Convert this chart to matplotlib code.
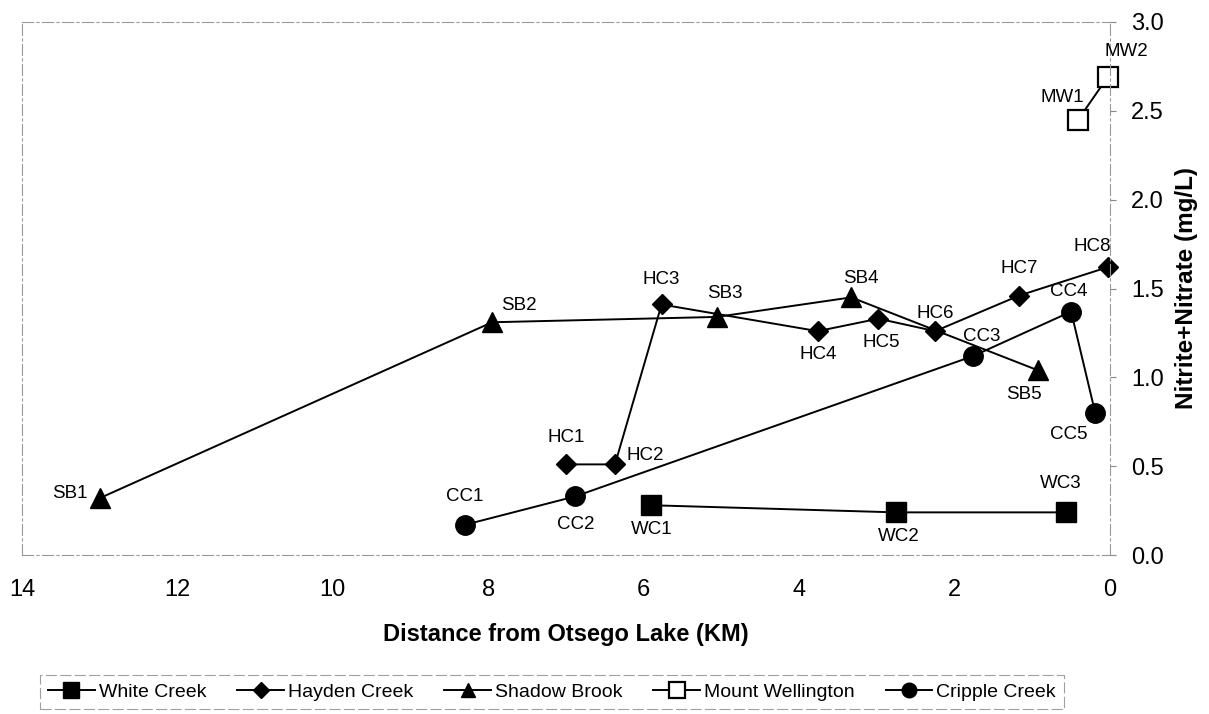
import numpy as np
import matplotlib
matplotlib.use("Agg")
from matplotlib import pyplot as plt

plt.rcParams['font.family'] = ['Liberation Sans', 'DejaVu Sans']

# distance from lake (km) and nitrite+nitrate (mg/L)
wc_x = [5.9, 2.76, 0.57]
wc_y = [0.28, 0.24, 0.24]
wc_lab = ["WC1", "WC2", "WC3"]

hc_x = [7.0, 6.37, 5.77, 3.76, 2.98, 2.25, 1.17, 0.03]
hc_y = [0.51, 0.51, 1.41, 1.26, 1.33, 1.26, 1.46, 1.62]
hc_lab = ["HC1", "HC2", "HC3", "HC4", "HC5", "HC6", "HC7", "HC8"]

sb_x = [13.0, 7.95, 5.06, 3.33, 0.93]
sb_y = [0.32, 1.31, 1.34, 1.45, 1.04]
sb_lab = ["SB1", "SB2", "SB3", "SB4", "SB5"]

mw_x = [0.41, 0.03]
mw_y = [2.45, 2.69]
mw_lab = ["MW1", "MW2"]

cc_x = [8.3, 6.88, 1.76, 0.5, 0.19]
cc_y = [0.17, 0.33, 1.12, 1.37, 0.80]
cc_lab = ["CC1", "CC2", "CC3", "CC4", "CC5"]

# label offsets in pixels (dx, dy)
wc_off = [(0, -24), (3, -24), (-5, 29)]
hc_off = [(0, 27), (30, 9), (0, 25), (0, -23), (3, -24), (0, 18), (0, 27), (-15, 21)]
sb_off = [(-30, 5), (27, 17), (8, 23), (10, 19), (-14, -24)]
mw_off = [(-16, 22), (19, 26)]
cc_off = [(0, 28), (0, -28), (8, 20), (-2, 20), (-26, -22)]

fig = plt.figure(figsize=(12.09, 7.14), dpi=100)
ax = fig.add_axes([22/1209, 1-555/714, (1110-22)/1209, (555-22)/714])

ax.plot(wc_x, wc_y, color="black", lw=1.4, marker="s", ms=15, clip_on=False, label="White Creek")
ax.plot(hc_x, hc_y, color="black", lw=1.4, marker="D", ms=10.5, clip_on=False, label="Hayden Creek")
ax.plot(sb_x, sb_y, color="black", lw=1.4, marker="^", ms=14, clip_on=False, label="Shadow Brook")
ax.plot(mw_x, mw_y, color="black", lw=1.4, marker="s", ms=14.5, mfc="white", mew=1.6,
        clip_on=False, label="Mount Wellington")
ax.plot(cc_x, cc_y, color="black", lw=1.4, marker="o", ms=14, clip_on=False, label="Cripple Creek")

for xs, ys, labs, offs in [(wc_x, wc_y, wc_lab, wc_off), (hc_x, hc_y, hc_lab, hc_off),
                           (sb_x, sb_y, sb_lab, sb_off), (mw_x, mw_y, mw_lab, mw_off),
                           (cc_x, cc_y, cc_lab, cc_off)]:
    for x, y, lab, (dx, dy) in zip(xs, ys, labs, offs):
        ax.annotate(lab, (x, y), xytext=(dx, dy), textcoords="offset pixels",
                    ha="center", va="center", fontsize=13.5)

ax.set_xlim(14, 0)
ax.set_ylim(0, 3)
ax.set_xticks(np.arange(14, -1, -2))
ax.set_yticks(np.arange(0, 3.01, 0.5))
ax.yaxis.set_major_formatter(matplotlib.ticker.FormatStrFormatter('%.1f'))
ax.yaxis.tick_right()
ax.tick_params(axis="x", length=0, pad=17, labelsize=17)
ax.tick_params(axis="y", length=4, color="#888888", pad=11, labelsize=17)

for s in ax.spines.values():
    s.set_color("#999999")
    s.set_linewidth(0.8)
    s.set_linestyle((0, (10, 3, 2, 3)))

ax.set_xlabel("Distance from Otsego Lake (KM)", fontsize=17, fontweight="bold", labelpad=16)
fig.text(1187/1209, 1-288/714, "Nitrite+Nitrate (mg/L)", rotation=90, fontsize=17.5,
         fontweight="bold", ha="center", va="center")

leg = fig.legend(loc="center", bbox_to_anchor=(552/1209, 1-692/714), ncol=5, fontsize=14,
                 fancybox=False, edgecolor="#888888", handlelength=2.4, markerscale=0.75,
                 columnspacing=1.6, handletextpad=0.2, borderpad=0.4)
leg.get_frame().set_linestyle((0, (10, 3)))
leg.get_frame().set_linewidth(0.8)

plt.savefig("out.png")
plt.close()
